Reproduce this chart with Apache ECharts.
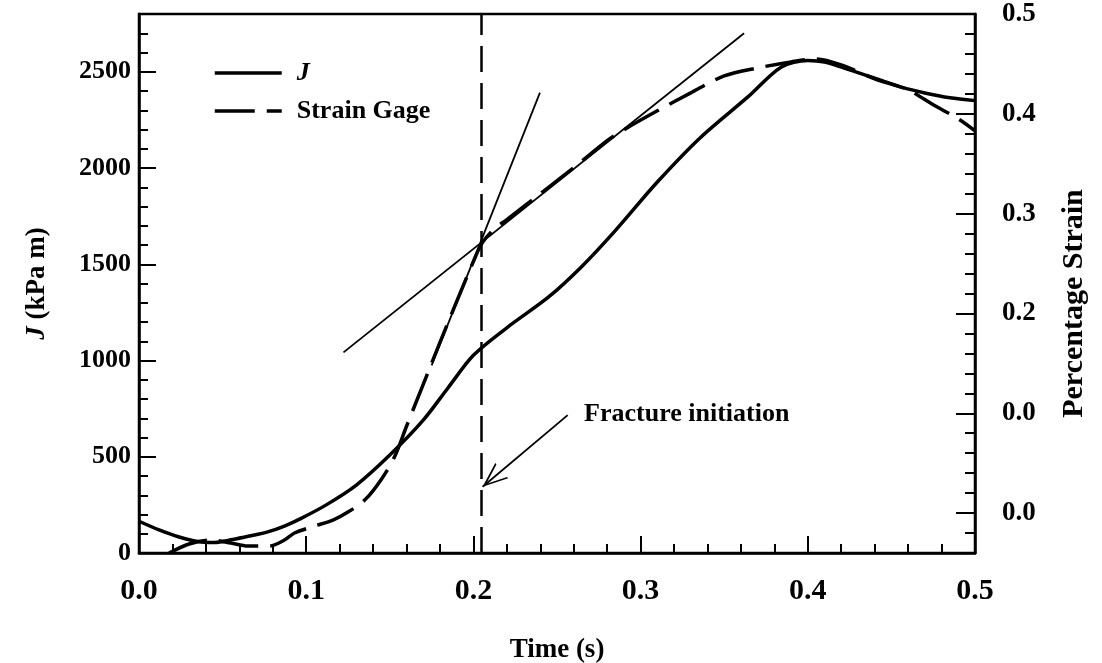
<!DOCTYPE html>
<html><head><meta charset="utf-8">
<script src="https://cdn.jsdelivr.net/npm/echarts@6/dist/echarts.min.js"></script>
<style>html,body{margin:0;padding:0;background:#fff}#c{width:1102px;height:663px}</style>
</head><body><div id="c"></div>
<script>
// ---- data ----
const jTime = [0, 0.012, 0.024, 0.035, 0.045, 0.056, 0.066, 0.077, 0.087, 0.097, 0.112, 0.13, 0.15, 0.17, 0.185, 0.2, 0.22, 0.245, 0.265, 0.285, 0.31, 0.336, 0.364, 0.384, 0.4, 0.41, 0.425, 0.444, 0.456, 0.47, 0.485, 0.5];
const jValues = [165, 120, 83, 60, 55, 70, 88, 110, 140, 180, 250, 353, 509, 690, 860, 1027, 1170, 1330, 1490, 1676, 1927, 2160, 2368, 2524, 2558, 2550, 2510, 2455, 2420, 2390, 2365, 2350];
const strainTime = [0.018, 0.03, 0.043, 0.055, 0.065, 0.078, 0.087, 0.093, 0.105, 0.116, 0.125, 0.135, 0.145, 0.153, 0.16, 0.17, 0.18, 0.19, 0.2, 0.205, 0.212, 0.22, 0.24, 0.26, 0.28, 0.29, 0.31, 0.33, 0.35, 0.37, 0.39, 0.405, 0.42, 0.44, 0.46, 0.475, 0.49, 0.5];
const strainValues = [-0.040, -0.031, -0.027, -0.030, -0.033, -0.033, -0.027, -0.020, -0.013, -0.007, 0.001, 0.013, 0.034, 0.057, 0.087, 0.129, 0.171, 0.212, 0.252, 0.270, 0.284, 0.294, 0.320, 0.346, 0.373, 0.384, 0.403, 0.421, 0.438, 0.446, 0.452, 0.455, 0.449, 0.435, 0.424, 0.409, 0.395, 0.383];
const steepTangentTime = [0.175, 0.2398];
const steepTangentStrain = [0.148, 0.4213];
const shallowTangentTime = [0.1223, 0.3619];
const shallowTangentStrain = [0.161, 0.4807];
const fractureTime = 0.2048;
const arrowTime = [0.2564, 0.2055];
const arrowJ = [716, 344];
const noteTime = 0.2632;
const noteJ = 720;
const noteText = 'Fracture initiation';
const xTicks = [0, 0.1, 0.2, 0.3, 0.4, 0.5];
const xTickLabels = ['0.0', '0.1', '0.2', '0.3', '0.4', '0.5'];
const leftTicks = [0, 500, 1000, 1500, 2000, 2500];
const leftTickLabels = ['0', '500', '1000', '1500', '2000', '2500'];
const rightTicks = [0, 0.1, 0.2, 0.3, 0.4, 0.5];
const rightTickLabels = ['0.0', '0.0', '0.2', '0.3', '0.4', '0.5'];
const seriesNames = ['J', 'Strain Gage'];

// ---- chart ----
const FONT = "'Liberation Serif', 'DejaVu Serif', serif";
const zip = (a, b) => a.map((v, i) => [v, b[i]]);
const pick = (ticks, labels) => v => {
  let best = -1, d = 1e9;
  ticks.forEach((t, i) => { const dd = Math.abs(t - v); if (dd < d) { d = dd; best = i; } });
  return d < 1e-6 * (Math.abs(v) + 1) ? labels[best] : '';
};
const black = '#000';
const chart = echarts.init(document.getElementById('c'), null, {renderer: 'canvas'});
// open V arrow head whose tip sits at the symbol centre (a zero-area point pads the top)
const arrowHead = 'path://M10,0 L10.01,0 L10,0.01 Z M10,25 L20,50 L18.2,50 L10,29.5 L1.8,50 L0,50 Z';

chart.setOption({
  animation: false,
  backgroundColor: '#fff',
  grid: {left: 139, top: 14, right: 127, bottom: 110, outerBoundsMode: 'none', containLabel: false,
    show: true, borderColor: black, borderWidth: 2.5, backgroundColor: 'transparent'},
  legend: {
    data: seriesNames, orient: 'vertical', left: 208, top: 55, itemWidth: 67, itemHeight: 14, itemGap: 12,
    itemStyle: {opacity: 0, borderWidth: 0},
    lineStyle: {width: 3.5, color: black},
    formatter: n => n === 'J' ? '{i|J}' : '{n|' + n + '}',
    textStyle: {rich: {
      i: {fontFamily: FONT, fontStyle: 'italic', fontWeight: 'bold', fontSize: 26, color: black, padding: [0, 0, 0, 10]},
      n: {fontFamily: FONT, fontWeight: 'bold', fontSize: 26, color: black, padding: [0, 0, 0, 10]}
    }}
  },
  xAxis: [
    {type: 'value', min: 0, max: 0.5, interval: 0.02, position: 'bottom',
      axisLine: {lineStyle: {color: black, width: 2.5}},
      axisTick: {inside: true, length: 9, lineStyle: {color: black, width: 2}},
      axisLabel: {show: false}, splitLine: {show: false}},
    {type: 'value', min: 0, max: 0.5, interval: 0.1, position: 'bottom',
      axisLine: {show: false},
      axisTick: {inside: true, length: 17, lineStyle: {color: black, width: 2}},
      axisLabel: {formatter: pick(xTicks, xTickLabels), fontFamily: FONT, fontWeight: 'bold', fontSize: 30, color: black, margin: 23},
      splitLine: {show: false},
      name: 'Time (s)', nameLocation: 'middle', nameGap: 84,
      nameTextStyle: {fontFamily: FONT, fontWeight: 'bold', fontSize: 27, color: black}}
  ],
  yAxis: [
    {type: 'value', min: 0, max: 2800, interval: 100, position: 'left',
      axisLine: {lineStyle: {color: black, width: 2.5}},
      axisTick: {inside: true, length: 9, lineStyle: {color: black, width: 2}},
      axisLabel: {show: false}, splitLine: {show: false}},
    {type: 'value', min: 0, max: 2800, interval: 500, position: 'left',
      axisLine: {show: false},
      axisTick: {inside: true, length: 17, lineStyle: {color: black, width: 2}},
      axisLabel: {formatter: pick(leftTicks, leftTickLabels), showMaxLabel: false, fontFamily: FONT, fontWeight: 'bold', fontSize: 26, color: black, margin: 8},
      splitLine: {show: false},
      name: '{i|J} (kPa m)', nameLocation: 'middle', nameGap: 88, nameRotate: 90,
      nameTextStyle: {fontFamily: FONT, fontWeight: 'bold', fontSize: 27, color: black,
        rich: {i: {fontFamily: FONT, fontWeight: 'bold', fontStyle: 'italic', fontSize: 27, color: black}}}},
    {type: 'value', min: -0.04, max: 0.5, interval: 0.02, position: 'right',
      axisLine: {lineStyle: {color: black, width: 2.5}},
      axisTick: {inside: true, length: 10, lineStyle: {color: black, width: 2}},
      axisLabel: {show: false}, splitLine: {show: false}},
    {type: 'value', min: -0.04, max: 0.5, position: 'right',
      axisLine: {show: false},
      axisTick: {inside: true, length: 19, customValues: rightTicks, lineStyle: {color: black, width: 2}},
      axisLabel: {customValues: rightTicks, formatter: pick(rightTicks, rightTickLabels), fontFamily: FONT, fontWeight: 'bold', fontSize: 27, color: black, margin: 27},
      splitLine: {show: false},
      name: 'Percentage Strain', nameLocation: 'middle', nameGap: 84, nameRotate: 90,
      nameTextStyle: {fontFamily: FONT, fontWeight: 'bold', fontSize: 30, color: black, padding: [0, 40, 0, 0]}}
  ],
  series: [
    {name: 'J', type: 'line', xAxisIndex: 0, yAxisIndex: 0, data: zip(jTime, jValues), smooth: 0.3,
      symbol: 'none', lineStyle: {color: black, width: 3.5}, itemStyle: {color: black}, z: 5},
    {name: 'Strain Gage', type: 'line', xAxisIndex: 0, yAxisIndex: 2, data: zip(strainTime, strainValues), smooth: 0.3,
      symbol: 'none', lineStyle: {color: black, width: 3.5, type: [40, 12]}, itemStyle: {color: black}, z: 5,
      markLine: {silent: true, precision: 5, symbol: ['none', 'none'], label: {show: false},
        lineStyle: {color: black, width: 2.5, type: [26, 11]},
        data: [{xAxis: fractureTime}]}},
    {name: 'steep tangent', type: 'line', xAxisIndex: 0, yAxisIndex: 2, data: zip(steepTangentTime, steepTangentStrain),
      symbol: 'none', lineStyle: {color: black, width: 1.8}, z: 4},
    {name: 'shallow tangent', type: 'line', xAxisIndex: 0, yAxisIndex: 2, data: zip(shallowTangentTime, shallowTangentStrain),
      symbol: 'none', lineStyle: {color: black, width: 1.8}, z: 4},
    {name: 'arrow', type: 'line', xAxisIndex: 0, yAxisIndex: 0, data: zip(arrowTime, arrowJ),
      symbol: 'none', lineStyle: {opacity: 0}, z: 4,
      markLine: {silent: true, precision: 5, symbol: ['none', arrowHead], symbolSize: [20, 50], label: {show: false},
        lineStyle: {color: black, width: 1.8, type: 'solid'},
        data: [[{coord: [arrowTime[0], arrowJ[0]]}, {coord: [arrowTime[1], arrowJ[1]]}]]}}
  ]
});

// annotation text placed through the chart's own scales
const p = chart.convertToPixel({xAxisIndex: 0, yAxisIndex: 0}, [noteTime, noteJ]);
chart.setOption({
  graphic: [{type: 'text', x: p[0] + 5, y: p[1], z: 100,
    style: {text: noteText, fontFamily: FONT, fontWeight: 'bold', fontSize: 26, fill: black, verticalAlign: 'middle', align: 'left'}}]
});
</script></body></html>
